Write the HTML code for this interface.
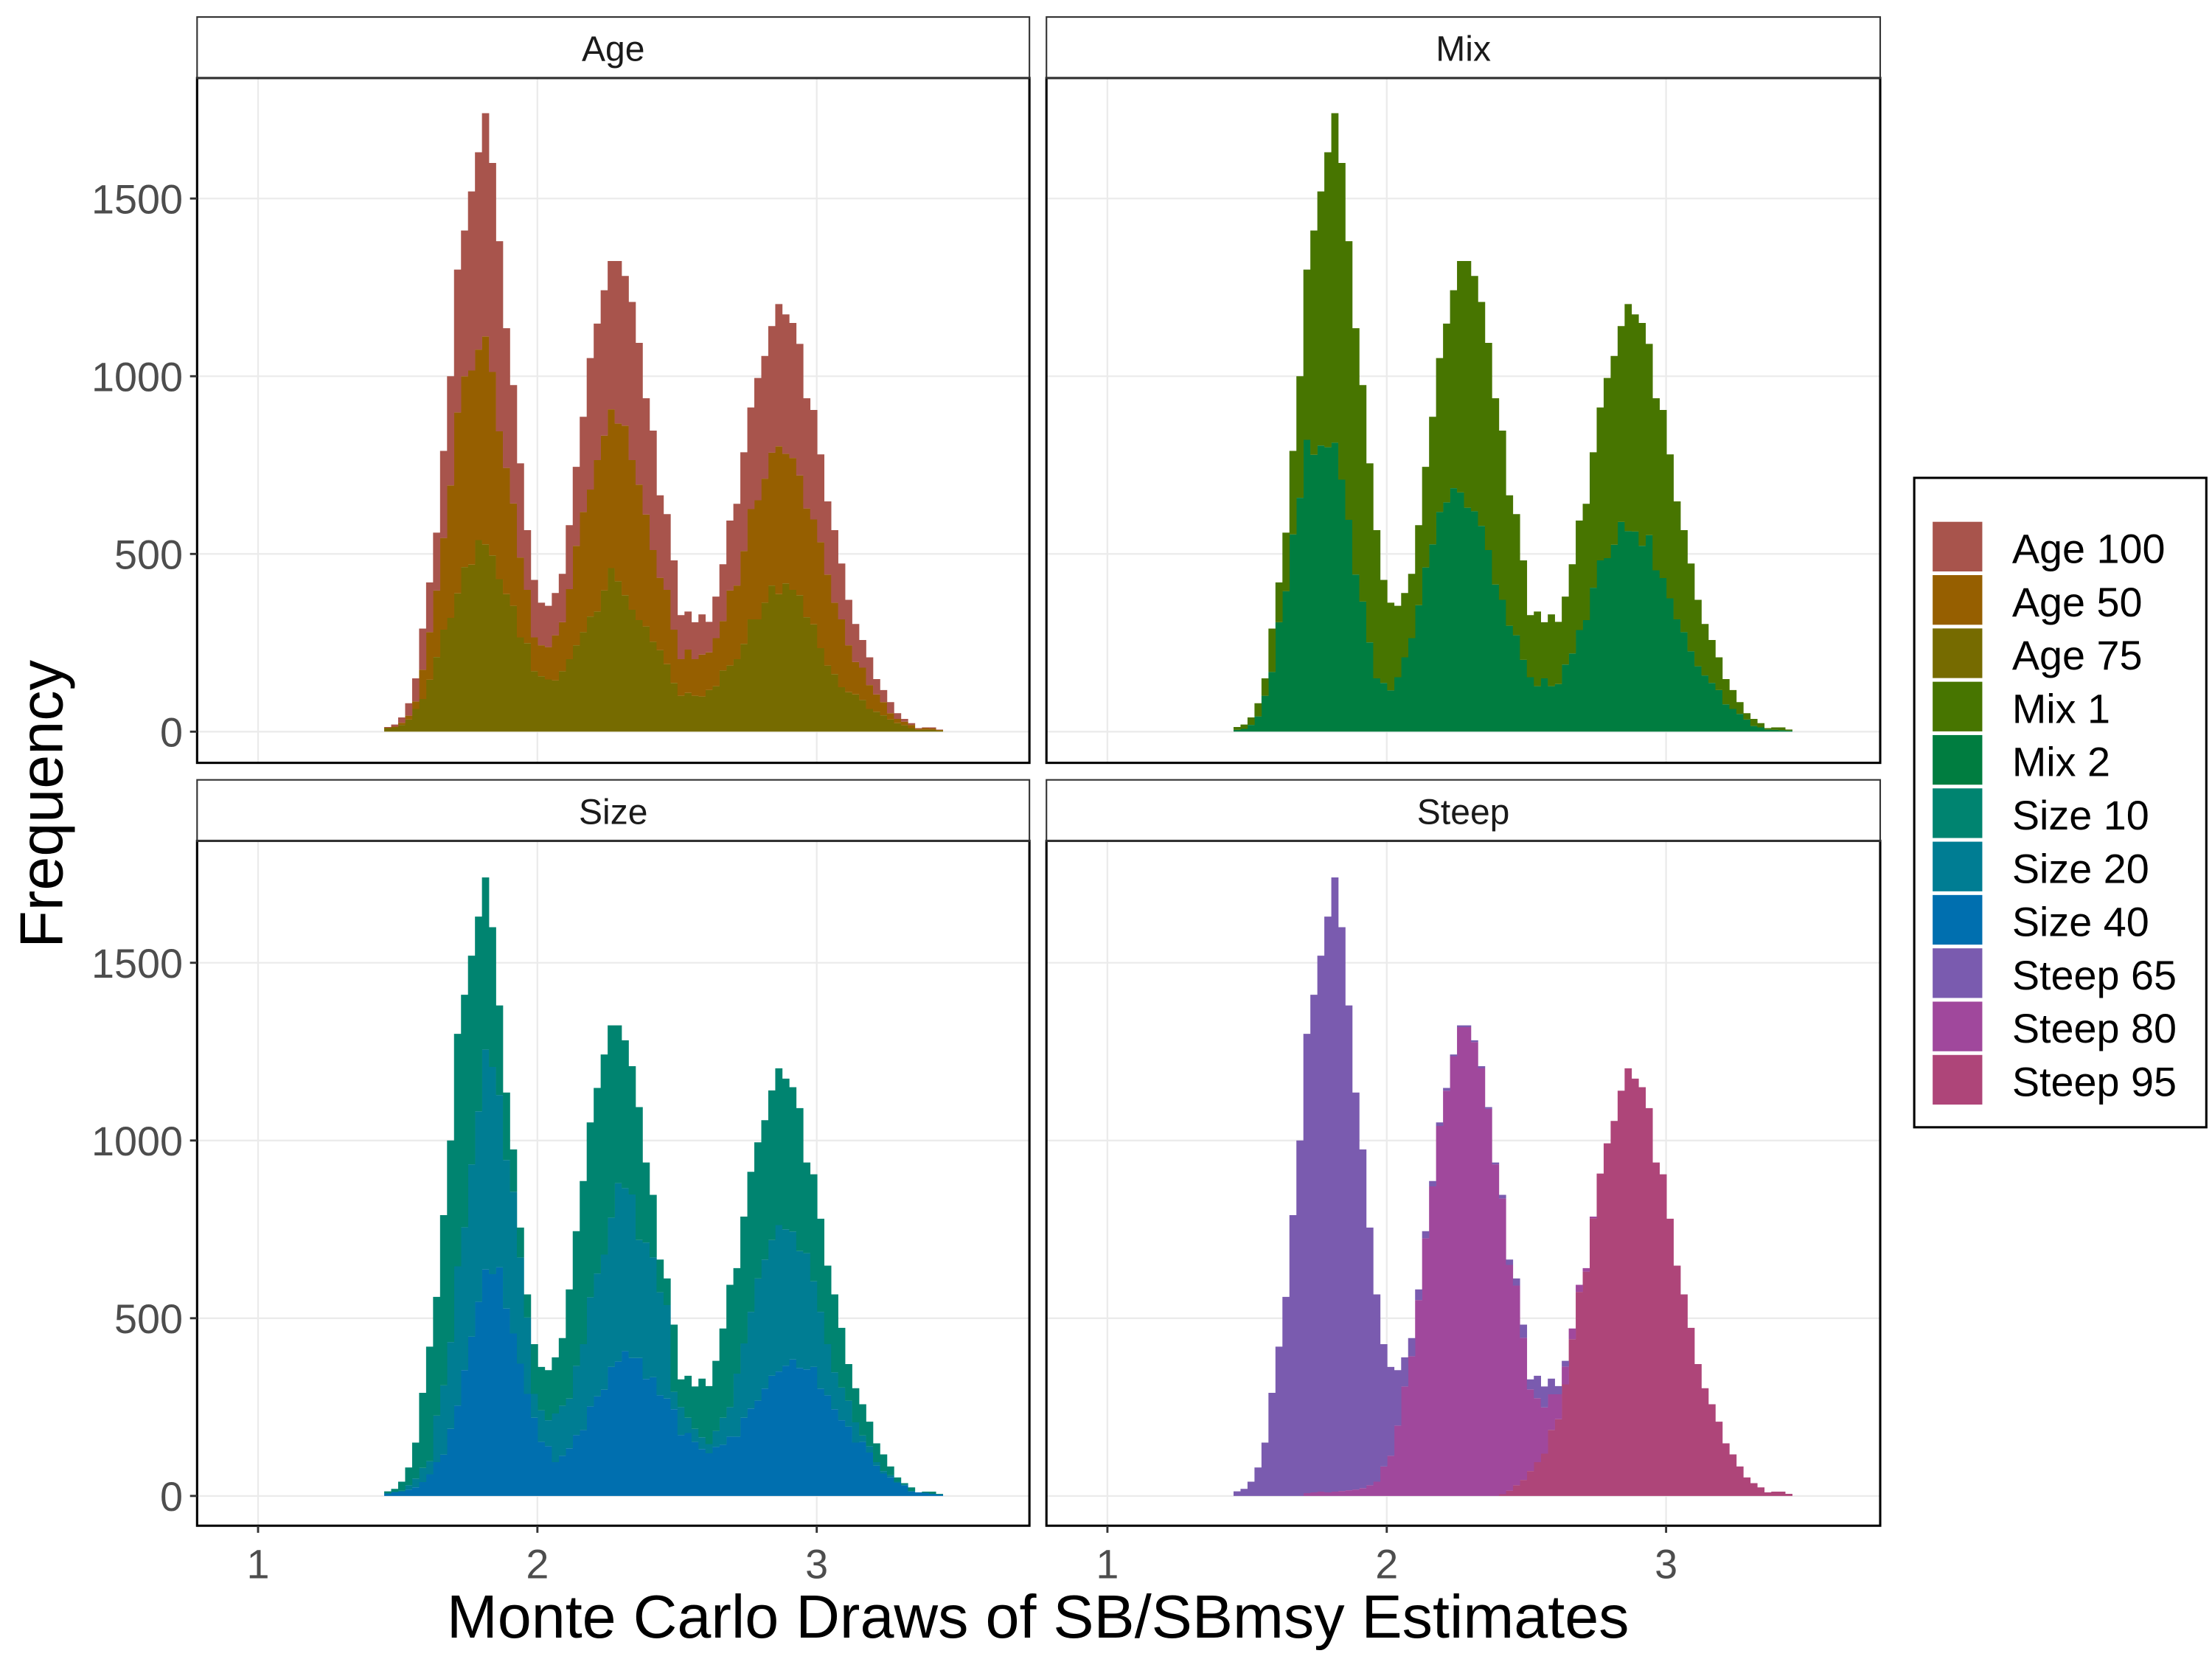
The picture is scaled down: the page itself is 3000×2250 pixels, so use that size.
<!DOCTYPE html>
<html>
<head>
<meta charset="utf-8">
<style>
html,body{margin:0;padding:0;background:#fff;}
svg{display:block;font-family:"Liberation Sans",Arial,sans-serif;}
</style>
</head>
<body>
<svg id="chart" xmlns="http://www.w3.org/2000/svg" width="3000" height="2250" viewBox="0 0 1560 1170">
  <rect x="0" y="0" width="1560" height="1170" fill="#fff"/>
  <g id="panels"></g>
  <text x="732" y="1155" font-size="43" text-anchor="middle" fill="#000">Monte Carlo Draws of SB/SBmsy Estimates</text>
  <text x="0" y="0" font-size="43" text-anchor="middle" fill="#000" transform="translate(44,567) rotate(-90)">Frequency</text>
  <g id="legend"></g>
</svg>
<script>
// ---- data (bin counts, bins of width 0.025 starting at 1.4515) ----
const binStart = 1.4515;
const binWidth = 0.025;
const xTicks = [1, 2, 3];
const yTicks = [0, 500, 1000, 1500];
const facetNames = ["Age", "Mix", "Size", "Steep"];

const age100 = [2,6,15,35,65,116,140,163,245,307, 402,410,504,555,628,588,535,393,333,265, 168,162,120,116,119,136,180,222,268,370, 384,409,417,457,421,445,399,327,336,232, 213,195,124,107,104,113,86,117,160,197, 230,278,286,344,345,356,400,392,380,370, 310,308,247,206,204,157,128,107,78,78, 43,34,31,16,8,5,2,2,3,1];
const age50 = [1,2,6,11,21,82,134,187,258,373, 509,537,546,536,585,516,416,355,288,225, 150,95,87,91,127,138,197,280,338,357, 426,436,447,444,477,421,381,315,258,204, 209,150,103,122,103,118,106,135,139,211, 207,261,310,335,349,374,416,365,371,337, 306,295,298,256,201,191,132,91,91,67, 49,37,18,12,10,9,3,5,4,2];
const age75 = [10,12,19,34,64,92,146,210,287,320, 389,463,470,539,527,496,429,387,354,265, 249,170,156,147,144,170,204,243,280,324, 338,397,460,423,384,343,314,296,253,229, 190,137,101,109,101,99,117,128,172,186, 204,247,316,316,363,411,387,417,399,384, 322,302,235,186,162,125,111,105,89,64, 56,46,34,24,18,10,5,5,5,3];
const mix1 = [8,12,21,37,49,122,112,165,235,342, 479,631,715,830,927,891,784,693,609,504, 417,290,247,201,181,181,225,283,359,433, 503,557,651,694,662,630,583,524,476,367, 341,280,175,210,158,202,175,191,251,308, 327,381,430,507,531,551,639,611,627,538, 484,473,405,332,287,247,187,145,121,92, 71,53,33,18,20,12,4,7,8,3];
const mix2 = [5,8,19,43,101,168,308,395,555,658, 821,779,805,800,813,709,596,442,366,251, 150,137,116,153,209,263,356,462,527,618, 645,685,673,630,620,579,511,414,371,298, 271,202,153,128,150,128,134,189,220,286, 314,405,482,488,526,590,564,563,523,553, 454,432,375,316,280,226,184,158,137,117, 77,64,50,34,16,12,6,5,4,3];
const size10 = [5,8,25,50,101,211,322,334,479,567, 654,654,587,548,484,393,252,190,119,84, 65,140,122,141,158,190,307,379,459,492, 522,563,541,444,416,361,374,225,176,92, 75,189,78,118,119,165,163,197,251,344, 297,357,394,383,392,421,441,424,406,402, 255,301,262,221,219,168,103,96,88,69, 53,47,25,12,4,10,0,3,6,2];
const size20 = [2,2,3,12,25,40,37,131,195,244, 392,402,485,536,619,583,485,418,399,299, 215,67,89,73,137,141,140,195,242,307, 346,380,420,502,459,460,332,384,337,290, 263,49,79,43,37,33,26,45,76,83, 177,209,272,344,363,382,412,384,360,329, 327,241,216,144,104,92,73,57,18,18, 10,7,6,3,2,2,0,0,0,0];
const size40 = [6,10,12,18,24,39,61,95,116,189, 254,354,448,546,637,624,643,527,457,372, 287,220,152,140,95,113,134,171,185,252, 280,299,363,378,407,388,388,329,334,283, 274,244,171,177,152,132,120,138,144,167, 167,220,246,268,302,338,350,366,384,360, 356,363,302,283,244,213,195,150,152,122, 85,63,52,37,30,12,10,9,6,4];
const steep65 = [13,20,40,80,150,290,420,560,790,1000, 1292,1400,1508,1620,1728,1586,1364,1117,953,725, 527,344,250,156,82,51,30,20,15,10, 8,5,5,5,5,5,5,5,10,15, 20,37,28,63,59,44,23,16,0,0, 0,0,0,0,0,0,0,0,0,0, 0,0,0,0,0,0,0,0,0,0, 0,0,0,0,0,0,0,0,0,0];
const steep80 = [0,0,0,0,0,0,0,0,0,0, 8,10,12,10,12,14,16,18,22,30, 40,83,113,198,308,393,551,725,871,1041, 1140,1237,1319,1319,1277,1204,1089,933,832,635, 562,400,230,180,130,100,70,50,30,20, 10,5,0,0,0,0,0,0,0,0, 0,0,0,0,0,0,0,0,0,0, 0,0,0,0,0,0,0,0,0,0];
const steep95 = [0,0,0,0,0,0,0,0,0,0, 0,0,0,0,0,0,0,0,0,0, 0,0,0,0,0,0,0,0,0,0, 0,0,0,0,0,0,0,0,5,15, 30,45,70,95,119,186,216,314,441,574, 631,781,907,992,1055,1140,1203,1174,1150,1091, 938,905,780,648,567,473,371,303,258,209, 148,117,83,52,36,24,10,12,12,6];

const legendLabels = ["Age 100","Age 50","Age 75","Mix 1","Mix 2","Size 10","Size 20","Size 40","Steep 65","Steep 80","Steep 95"];
const legendColors = ["#A8544C","#965F00","#766B00","#477500","#007D40","#008470","#007D93","#006FAF","#7A5BAF","#A0489C","#AE4579"];

// ---- layout ----
const NS = "http://www.w3.org/2000/svg";
const panels = [
  {x0:139, x1:726, sy0:12, sy1:55, py0:55, py1:538, zero:516, left:true,  bottom:false, series:[age100,age50,age75], colors:["#A8544C","#965F00","#766B00"], slug:"age"},
  {x0:738, x1:1326, sy0:12, sy1:55, py0:55, py1:538, zero:516, left:false, bottom:false, series:[mix1,mix2], colors:["#477500","#007D40"], slug:"mix"},
  {x0:139, x1:726, sy0:550, sy1:593, py0:593, py1:1076, zero:1055, left:true, bottom:true, series:[size10,size20,size40], colors:["#008470","#007D93","#006FAF"], slug:"size"},
  {x0:738, x1:1326, sy0:550, sy1:593, py0:593, py1:1076, zero:1055, left:false, bottom:true, series:[steep65,steep80,steep95], colors:["#7A5BAF","#A0489C","#AE4579"], slug:"steep"}
];
const pxPerUnit = 197;
const pxPerCount = 0.25067;
function xScale(p, v){ return p.x0 + 43 + (v - 1) * pxPerUnit; }
function yScale(p, c){ return p.zero - c * pxPerCount; }

function mk(tag, attrs, parent){
  const el = document.createElementNS(NS, tag);
  for (const k in attrs) el.setAttribute(k, attrs[k]);
  parent.appendChild(el);
  return el;
}

const root = document.getElementById("panels");
panels.forEach((p, pi) => {
  const g = mk("g", {}, root);
  
  
  const bg = mk("rect", {x:p.x0, y:p.py0, width:p.x1-p.x0, height:p.py1-p.py0, fill:"#fff"}, g);
  
  
  yTicks.forEach(t => {
    const y = yScale(p, t);
    const l = mk("line", {x1:p.x0, x2:p.x1, y1:y, y2:y, stroke:"#EBEBEB", "stroke-width":1.2}, g);
    
    
  });
  xTicks.forEach(t => {
    const x = xScale(p, t);
    const l = mk("line", {x1:x, x2:x, y1:p.py0, y2:p.py1, stroke:"#EBEBEB", "stroke-width":1.2}, g);
    
    
  });
  const n = p.series[0].length;
  const cum = new Array(n).fill(0);
  for (let s = p.series.length - 1; s >= 0; s--) {
    const arr = p.series[s];
    let d = "";
    for (let i = 0; i < n; i++) {
      const v = arr[i];
      if (v > 0) {
        const xa = xScale(p, binStart + i * binWidth);
        const xb = xScale(p, binStart + (i + 1) * binWidth);
        const ya = yScale(p, cum[i]);
        const yb = yScale(p, cum[i] + v);
        d += "M" + xa.toFixed(2) + " " + ya.toFixed(2) + "H" + (xb + 0.15).toFixed(2) + "V" + yb.toFixed(2) + "H" + xa.toFixed(2) + "Z";
      }
      cum[i] += v;
    }
    const path = mk("path", {d:d, fill:p.colors[s]}, g);
    
    
  }
  const br = mk("rect", {x:p.x0, y:p.py0, width:p.x1-p.x0, height:p.py1-p.py0, fill:"none", stroke:"#000", "stroke-width":1.6}, g);
  
  
  const st = mk("rect", {x:p.x0, y:p.sy0, width:p.x1-p.x0, height:p.sy1-p.sy0, fill:"#fff", stroke:"#333", "stroke-width":1.1}, g);
  
  
  const sl = mk("line", {x1:p.x0, x2:p.x1, y1:p.sy1, y2:p.sy1, stroke:"#333", "stroke-width":1.6}, g);
  
  
  const stx = mk("text", {x:(p.x0+p.x1)/2, y:p.sy0+31, "font-size":25, "text-anchor":"middle", fill:"#1A1A1A"}, g);
  stx.textContent = facetNames[pi];
  
  
  if (p.left) {
    yTicks.forEach(t => {
      const y = yScale(p, t);
      const tk = mk("line", {x1:p.x0-5, x2:p.x0, y1:y, y2:y, stroke:"#333", "stroke-width":1.5}, g);
      
      
      const tx = mk("text", {x:p.x0-10, y:y+10.5, "font-size":29, "text-anchor":"end", fill:"#4D4D4D"}, g);
      tx.textContent = String(t);
      
      
    });
  }
  if (p.bottom) {
    xTicks.forEach(t => {
      const x = xScale(p, t);
      const tk = mk("line", {x1:x, x2:x, y1:p.py1, y2:p.py1+5, stroke:"#333", "stroke-width":1.5}, g);
      
      
      const tx = mk("text", {x:x, y:p.py1+37, "font-size":29, "text-anchor":"middle", fill:"#4D4D4D"}, g);
      tx.textContent = String(t);
      
      
    });
  }
});

const lg = document.getElementById("legend");
const lbox = mk("rect", {x:1350, y:337, width:206, height:458, fill:"#fff", stroke:"#000", "stroke-width":1.6}, lg);


legendLabels.forEach((lab, k) => {
  const eg = mk("g", {}, lg);
  
  
  const key = mk("rect", {x:1363, y:368 + k*37.6, width:35, height:35, fill:legendColors[k]}, eg);
  
  
  const tx = mk("text", {x:1419, y:397 + k*37.6, "font-size":29, fill:"#000"}, eg);
  tx.textContent = lab;
  
  
});
</script>
</body>
</html>
